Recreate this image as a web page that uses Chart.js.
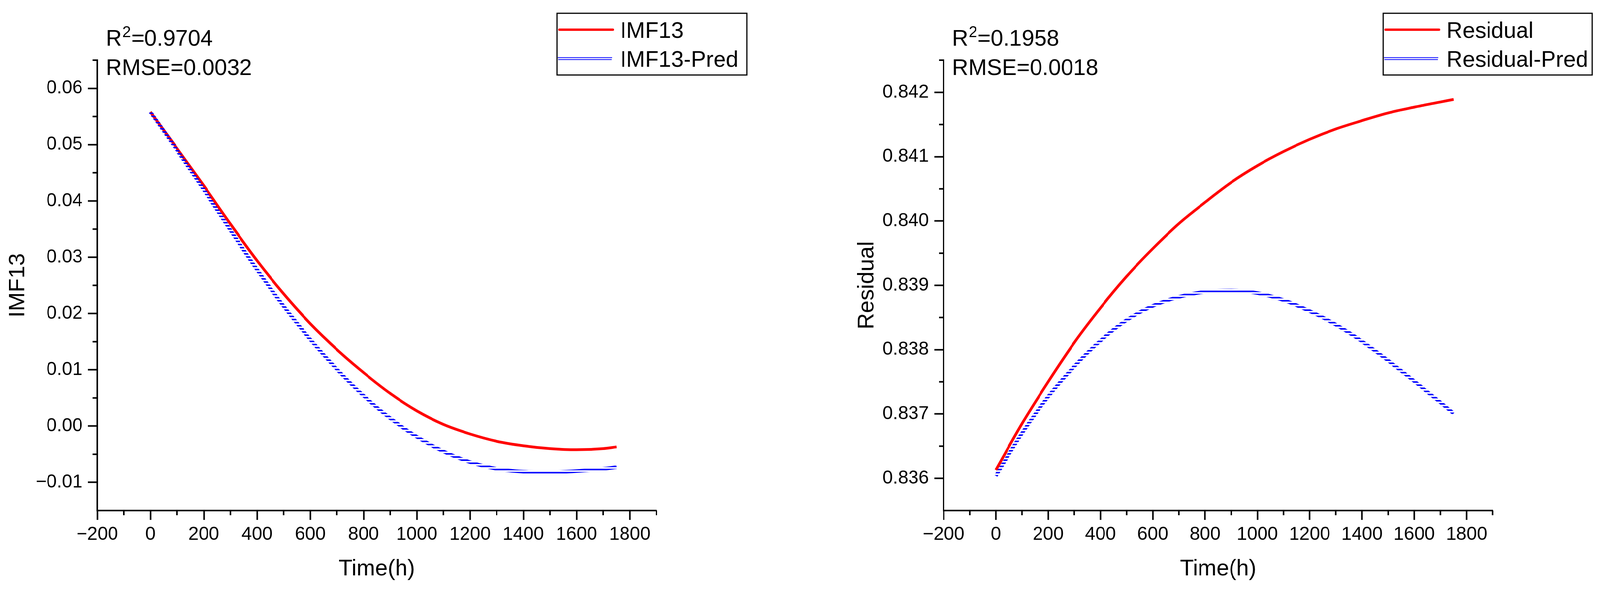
<!DOCTYPE html>
<html>
<head>
<meta charset="utf-8">
<script src="https://cdn.jsdelivr.net/npm/chart.js@4.4.1/dist/chart.umd.min.js"></script>
<style>
html, body { margin: 0; padding: 0; background: #fff; overflow: hidden; }
#wrap { position: relative; width: 4146px; height: 1513px; transform-origin: 0 0; }
canvas { position: absolute; top: 0; }
</style>
</head>
<body>
<div id="wrap">
  <canvas id="imfChart" width="2073" height="1513" style="left:0"></canvas>
  <canvas id="resChart" width="2073" height="1513" style="left:2073px"></canvas>
</div>
<script>
// time axis (hours) shared by all four series
const hours = [0, 100, 200, 300, 400, 500, 600, 700, 800, 900, 1000, 1100, 1200, 1300, 1400, 1500, 1600, 1700, 1750];

const imf13     = [0.0558, 0.0493, 0.0427, 0.0359, 0.0294, 0.0235, 0.0182, 0.0136, 0.0095, 0.0058, 0.0027, 0.0003, -0.0014, -0.0027, -0.0035, -0.0040, -0.0042, -0.0040, -0.0037];
const imf13Pred = [0.0558, 0.0490, 0.0420, 0.0348, 0.0278, 0.0213, 0.0154, 0.0101, 0.0054, 0.0014, -0.0019, -0.0045, -0.0064, -0.0076, -0.0081, -0.0082, -0.0080, -0.0076, -0.0073];

const residual     = [0.83613, 0.83685, 0.83750, 0.83811, 0.83865, 0.83914, 0.83957, 0.83996, 0.84029, 0.84060, 0.84086, 0.84108, 0.84127, 0.84143, 0.84156, 0.84168, 0.84177, 0.84185, 0.84189];
const residualPred = [0.83604, 0.83670, 0.83727, 0.83774, 0.83814, 0.83846, 0.83868, 0.83882, 0.83890, 0.83892, 0.83888, 0.83877, 0.83860, 0.83839, 0.83813, 0.83783, 0.83751, 0.83718, 0.83701];

// tick labels
const xTicks = [-200, 0, 200, 400, 600, 800, 1000, 1200, 1400, 1600, 1800];
const xMinor = [-100, 100, 300, 500, 700, 900, 1100, 1300, 1500, 1700, 1900];
const imfTicks = [-0.01, 0, 0.01, 0.02, 0.03, 0.04, 0.05, 0.06];
const imfMinor = [-0.005, 0.005, 0.015, 0.025, 0.035, 0.045, 0.055, 0.065];
const resTicks = [0.836, 0.837, 0.838, 0.839, 0.840, 0.841, 0.842];
const resMinor = [0.8365, 0.8375, 0.8385, 0.8395, 0.8405, 0.8415, 0.8425];

const imfStats = { r2: '0.9704', rmse: '0.0032' };
const resStats = { r2: '0.1958', rmse: '0.0018' };

const FONT = "'Liberation Sans', Arial, sans-serif";
const RED = '#ff0000';
const BLUE = '#0000ff';
const minus = s => s.replace('-', '\u2212');

// the viewport can be a bit narrower than the figure, so fit it in
const wrap = document.getElementById('wrap');
const sx = window.innerWidth / 4146, sy = window.innerHeight / 1513;
if (Math.abs(sx - 1) > 0.001 || Math.abs(sy - 1) > 0.001) {
  wrap.style.transform = 'scale(' + sx + ',' + sy + ')';
}

// the prediction curve in the figure is drawn as a hatched band
function hatch() {
  const c = document.createElement('canvas');
  c.width = 1; c.height = 8;
  const g = c.getContext('2d');
  g.fillStyle = BLUE;
  g.fillRect(0, 0, 1, 4);
  return g.createPattern(c, 'repeat');
}

const decor = {
  id: 'decor',
  afterDraw(chart, args, o) {
    const ctx = chart.ctx;
    const xs = chart.scales.x, ys = chart.scales.y;
    ctx.save();
    // minor ticks
    ctx.strokeStyle = '#000';
    ctx.lineWidth = 4;
    ctx.beginPath();
    o.xMinor.forEach(v => {
      const p = xs.getPixelForValue(v);
      ctx.moveTo(p, xs.top); ctx.lineTo(p, xs.top + 12);
    });
    o.yMinor.forEach(v => {
      const p = ys.getPixelForValue(v);
      ctx.moveTo(ys.right, p); ctx.lineTo(ys.right - 12, p);
    });
    ctx.stroke();

    // R2 / RMSE text
    ctx.fillStyle = '#000';
    ctx.textBaseline = 'alphabetic';
    ctx.textAlign = 'left';
    ctx.font = '58px ' + FONT;
    let x = o.statX;
    ctx.fillText('R', x, 117);
    x += ctx.measureText('R').width + 1;
    ctx.font = '40px ' + FONT;
    ctx.fillText('2', x, 95);
    x += ctx.measureText('2').width + 1;
    ctx.font = '58px ' + FONT;
    ctx.fillText('=' + o.stats.r2, x, 117);
    ctx.fillText('RMSE=' + o.stats.rmse, o.statX, 192);

    // legend box
    const L = o.legend;
    const ds = chart.data.datasets;
    ctx.strokeStyle = '#000';
    ctx.lineWidth = 3;
    ctx.strokeRect(L.x, 34, L.w, 158);
    ctx.strokeStyle = RED;
    ctx.lineWidth = 6;
    ctx.lineCap = 'round';
    ctx.beginPath();
    ctx.moveTo(L.x + 6, 76); ctx.lineTo(L.x + 145, 76);
    ctx.stroke();
    ctx.lineCap = 'butt';
    ctx.strokeStyle = BLUE;
    ctx.lineWidth = 2;
    ctx.beginPath();
    ctx.moveTo(L.x + 2, 147.5); ctx.lineTo(L.x + 143, 147.5);
    ctx.moveTo(L.x + 3, 152.5); ctx.lineTo(L.x + 142, 152.5);
    ctx.stroke();
    ctx.font = '58px ' + FONT;
    ctx.fillText(ds[0].label, L.x + 164, 97);
    ctx.fillText(ds[1].label, L.x + 164, 171);
    ctx.restore();
  }
};

function makeChart(id, cfg) {
  const tickFont = { family: FONT, size: 48 };
  const titleFont = { family: FONT, size: 58 };
  return new Chart(document.getElementById(id), {
    type: 'line',
    data: {
      datasets: [
        {
          label: cfg.names[0],
          data: hours.map((h, i) => ({ x: h, y: cfg.actual[i] })),
          borderColor: RED,
          borderWidth: 7,
          pointRadius: 0,
          cubicInterpolationMode: 'monotone',
          order: 1
        },
        {
          label: cfg.names[1],
          data: hours.map((h, i) => ({ x: h, y: cfg.pred[i] })),
          borderColor: hatch(),
          borderWidth: 9,
          pointRadius: 0,
          cubicInterpolationMode: 'monotone',
          order: 0
        }
      ]
    },
    options: {
      responsive: false,
      devicePixelRatio: 1,
      animation: false,
      layout: { padding: { left: 0, top: 154, right: cfg.padRight, bottom: 0 } },
      plugins: {
        legend: { display: false },
        tooltip: { enabled: false },
        decor: {
          xMinor: xMinor, yMinor: cfg.yMinor,
          stats: cfg.stats, statX: cfg.statX,
          legend: cfg.legend
        }
      },
      scales: {
        x: {
          type: 'linear',
          min: -200, max: 1900,
          afterBuildTicks: s => { s.ticks = xTicks.map(v => ({ value: v })); },
          afterFit: s => { s.height = 206; },
          ticks: {
            font: tickFont, color: '#000', padding: 9, maxRotation: 0, autoSkip: false,
            callback: v => minus(String(v))
          },
          grid: { drawOnChartArea: false, tickLength: 24, tickWidth: 4, tickColor: '#000' },
          border: { display: true, color: '#000', width: 4 },
          title: { display: true, text: 'Time(h)', font: titleFont, color: '#000', padding: { top: 0, bottom: 21 } }
        },
        y: {
          type: 'linear',
          min: cfg.yMin, max: cfg.yMax,
          afterBuildTicks: s => { s.ticks = cfg.yTicks.map(v => ({ value: v })); },
          afterFit: s => { s.width = cfg.yWidth; },
          ticks: {
            font: tickFont, color: '#000', padding: 14, autoSkip: false,
            callback: v => minus(v.toFixed(cfg.decimals))
          },
          grid: { drawOnChartArea: false, tickLength: 24, tickWidth: 4, tickColor: '#000' },
          border: { display: true, color: '#000', width: 4 },
          title: { display: true, text: cfg.names[0], font: titleFont, color: '#000', padding: { top: cfg.titlePad, bottom: 0 } }
        }
      }
    },
    plugins: [decor]
  });
}

makeChart('imfChart', {
  names: ['IMF13', 'IMF13-Pred'],
  actual: imf13, pred: imf13Pred,
  yMin: -0.015, yMax: 0.065, yTicks: imfTicks, yMinor: imfMinor, decimals: 2,
  yWidth: 252, padRight: 372, titlePad: 12,
  stats: imfStats, statX: 274,
  legend: { x: 1443, w: 492 }
});

makeChart('resChart', {
  names: ['Residual', 'Residual-Pred'],
  actual: residual, pred: residualPred,
  yMin: 0.8355, yMax: 0.8425, yTicks: resTicks, yMinor: resMinor, decimals: 3,
  yWidth: 372, padRight: 278, titlePad: 139,
  stats: resStats, statX: 394,
  legend: { x: 1511, w: 542 }
});
</script>
</body>
</html>
